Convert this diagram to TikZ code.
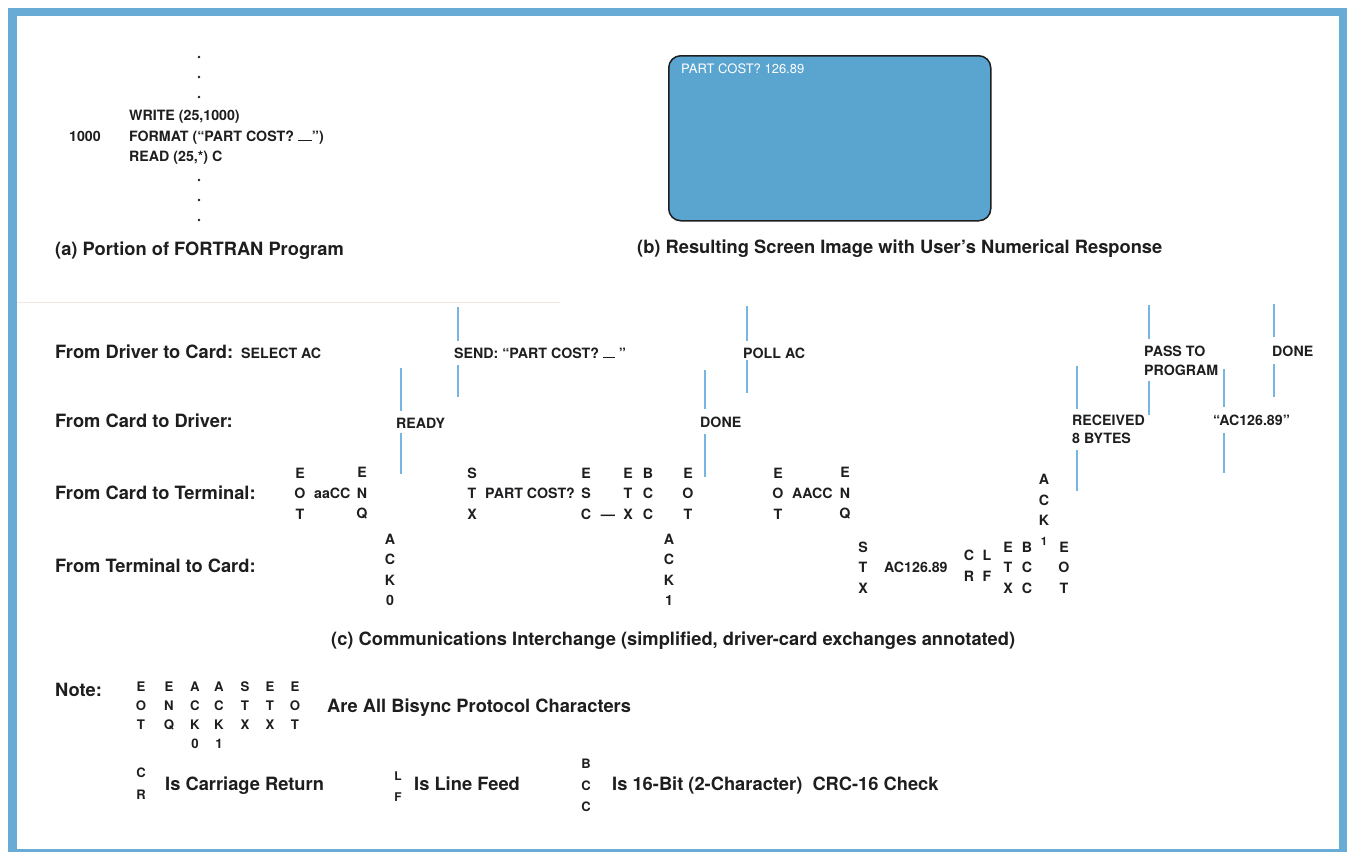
\documentclass[tikz,border=0pt]{standalone}
\usepackage{fontspec}
\setmainfont{TeX Gyre Heros}
\definecolor{frameblue}{RGB}{104,172,214}
\definecolor{screenblue}{RGB}{90,164,208}
\definecolor{tickblue}{RGB}{118,182,224}
\definecolor{ink}{RGB}{30,30,32}
\definecolor{faintline}{RGB}{242,230,224}
\newcommand\curbar[1]{\rule{#1}{1.5pt}}
\begin{document}
\begin{tikzpicture}[x=1pt,y=-1pt,
  every node/.style={inner sep=0pt, text=ink},
  bigtxt/.style={font=\fontsize{18.3}{22}\selectfont\bfseries, anchor=base west},
  code/.style={font=\fontsize{14.2}{18}\selectfont\bfseries, anchor=base west},
  ann/.style={font=\fontsize{14.2}{18}\selectfont\bfseries, anchor=base west},
  ann2/.style={font=\fontsize{14.2}{18}\selectfont\bfseries, anchor=north west, align=left},
  stk/.style={font=\fontsize{14.2}{20.5}\selectfont\bfseries, align=center},
  nstk/.style={font=\fontsize{13.2}{19}\selectfont\bfseries, align=center},
  sstk/.style={font=\fontsize{13}{22}\selectfont\bfseries, align=center},
  scr/.style={font=\fontsize{13}{15}\selectfont, text=white, anchor=base west},
  tick/.style={draw=tickblue, line width=1.4pt},
]
\useasboundingbox (0,0) rectangle (1347,852);
\fill[white] (0,0) rectangle (1347,852);
\fill[frameblue] (8,8) rectangle (1347,852);
\fill[white] (17,16) rectangle (1339,849);
\draw[faintline, line width=0.8pt] (17,302) -- (560,302);

% ---------- (a) FORTRAN program ----------
\foreach \yy in {57,77,97,180,200,220} \fill[ink] (199,\yy) circle (1.3);
\node[code] (wr)  at (129,120) {WRITE (25,1000)};
\node[code] (lno) at (69,141)  {1000};
\node[code] (fmt) at (129,141) {FORMAT (“PART COST? \curbar{14pt}”)};
\node[code] (rd)  at (129,161) {READ (25,*) C};
\node[bigtxt] (capa) at (55,255.5) {(a) Portion of FORTRAN Program};

% ---------- (b) screen ----------
\node[draw=ink, line width=1.5pt, fill=screenblue, rounded corners=12pt,
      minimum width=322pt, minimum height=165pt, anchor=north west] (screen) at (668,55) {};
\node[scr] (scrtext) at (681,73.5) {PART COST? 126.89};
\node[bigtxt] (capb) at (637,253.5) {(b) Resulting Screen Image with User’s Numerical Response};

% ---------- (c) row labels ----------
\node[bigtxt] (r1) at (55,358.5) {From Driver to Card:};
\node[bigtxt] (r2) at (55,427.5) {From Card to Driver:};
\node[bigtxt] (r3) at (55,499.5) {From Card to Terminal:};
\node[bigtxt] (r4) at (55,572.5) {From Terminal to Card:};

% driver to card
\node[ann] (sel)  at (241,358) {SELECT AC};
\node[ann] (send) at (454,358) {SEND: “PART COST? \curbar{12pt} ”};
\node[ann] (poll) at (743,358) {POLL AC};
\node[ann2] (pass) at (1144,346) {PASS TO\\[1pt]PROGRAM};
\node[ann] (done2) at (1272,356) {DONE};

% card to driver
\node[ann] (ready) at (396,428) {READY};
\node[ann] (done1) at (700,427.5) {DONE};
\node[ann2] (recv) at (1072,415) {RECEIVED\\8 BYTES};
\node[ann] (val) at (1213,425) {“AC126.89”};

% card to terminal
\node[stk] (eot1) at (300,493.5) {E\\O\\T};
\node[ann] (aacc1) at (314,498.5) {aaCC};
\node[stk] (enq1) at (362,493.5) {E\\N\\Q};
\node[stk] (stx1) at (472,493.5) {S\\T\\X};
\node[ann] (pc) at (485,498.5) {PART COST?};
\node[stk] (esc1) at (586,493.5) {E\\S\\C};
\node[ann, anchor=base] (dash1) at (608,519) {—};
\node[stk] (etx1) at (628,493.5) {E\\T\\X};
\node[stk] (bcc1) at (648,493.5) {B\\C\\C};
\node[stk] (eot2) at (688,493.5) {E\\O\\T};
\node[stk] (eot3) at (778,493.5) {E\\O\\T};
\node[ann] (aacc2) at (792,498.5) {AACC};
\node[stk] (enq2) at (845,493.5) {E\\N\\Q};

% terminal to card
\node[stk] (ack0) at (390,570) {A\\C\\K\\0};
\node[stk] (ack1) at (669,570) {A\\C\\K\\1};
\node[stk] (stx2) at (863,567.5) {S\\T\\X};
\node[ann] (resp) at (884,572) {AC126.89};
\node[stk, font=\fontsize{14.2}{21}\selectfont\bfseries] (cr1) at (969,565.5) {C\\R};
\node[stk, font=\fontsize{14.2}{21}\selectfont\bfseries] (lf1) at (987,565.5) {L\\F};
\node[stk] (etx2) at (1008,567.5) {E\\T\\X};
\node[stk] (bcc2) at (1027,567.5) {B\\C\\C};
\node[stk, font=\fontsize{14.2}{20.3}\selectfont\bfseries] (ack1b) at (1044,510) {A\\C\\K\\{\fontsize{11.5}{14}\selectfont 1}};
\node[stk] (eot4) at (1064,567.5) {E\\O\\T};

% annotation ticks
\coordinate (t1a) at (401,368); \coordinate (t1b) at (401,474);
\draw[tick, shorten >=6pt] (t1a) -- (t1a |- ready.north);
\draw[tick, shorten <=5pt] (t1b |- ready.south) -- (t1b);
\coordinate (t2a) at (458,307); \coordinate (t2b) at (458,397);
\draw[tick, shorten >=6pt] (t2a) -- (t2a |- send.north);
\draw[tick, shorten <=7pt] (t2b |- send.south) -- (t2b);
\coordinate (t3a) at (705,370); \coordinate (t3b) at (705,477);
\draw[tick, shorten >=8pt] (t3a) -- (t3a |- done1.north);
\draw[tick, shorten <=6pt] (t3b |- done1.south) -- (t3b);
\coordinate (t4a) at (747,306); \coordinate (t4b) at (747,393);
\draw[tick, shorten >=6pt] (t4a) -- (t4a |- poll.north);
\draw[tick, shorten <=2pt] (t4b |- poll.south) -- (t4b);
\coordinate (t5a) at (1077,366); \coordinate (t5b) at (1077,491);
\draw[tick, shorten >=6pt] (t5a) -- (t5a |- recv.north);
\draw[tick, shorten <=6pt] (t5b |- recv.south) -- (t5b);
\coordinate (t6a) at (1149,305); \coordinate (t6b) at (1149,415);
\draw[tick, shorten >=7pt] (t6a) -- (t6a |- pass.north);
\draw[tick, shorten <=5pt] (t6b |- pass.south) -- (t6b);
\coordinate (t7a) at (1224,369); \coordinate (t7b) at (1224,473);
\draw[tick, shorten >=7pt] (t7a) -- (t7a |- val.north);
\draw[tick, shorten <=8pt] (t7b |- val.south) -- (t7b);
\coordinate (t8a) at (1274,304); \coordinate (t8b) at (1274,397);
\draw[tick, shorten >=8pt] (t8a) -- (t8a |- done2.north);
\draw[tick, shorten <=8pt] (t8b |- done2.south) -- (t8b);

\node[bigtxt] (capc) at (331,645.5) {(c) Communications Interchange (simplified, driver-card exchanges annotated)};

% ---------- note ----------
\node[bigtxt] (note) at (55,696.5) {Note:};
\node[nstk] (n1) at (141,706) {E\\O\\T};
\node[nstk] (n2) at (169,706) {E\\N\\Q};
\node[nstk] (n3) at (195,715.5) {A\\C\\K\\0};
\node[nstk] (n4) at (219,715.5) {A\\C\\K\\1};
\node[nstk] (n5) at (245,706) {S\\T\\X};
\node[nstk] (n6) at (270,706) {E\\T\\X};
\node[nstk] (n7) at (295,706) {E\\O\\T};
\node[bigtxt] (bisync) at (327,712.5) {Are All Bisync Protocol Characters};
\node[sstk] (ncr) at (141,783.5) {C\\R};
\node[bigtxt] (crtxt) at (165,790.5) {Is Carriage Return};
\node[sstk, font=\fontsize{12}{21}\selectfont\bfseries] (nlf) at (398,786.5) {L\\F};
\node[bigtxt] (lftxt) at (414,790.5) {Is Line Feed};
\node[sstk, font=\fontsize{13}{21.5}\selectfont\bfseries] (nbcc) at (586,785.5) {B\\C\\C};
\node[bigtxt] (bcctxt) at (612,790.5) {Is 16-Bit (2-Character)\ \ CRC-16 Check};
\end{tikzpicture}
\end{document}
